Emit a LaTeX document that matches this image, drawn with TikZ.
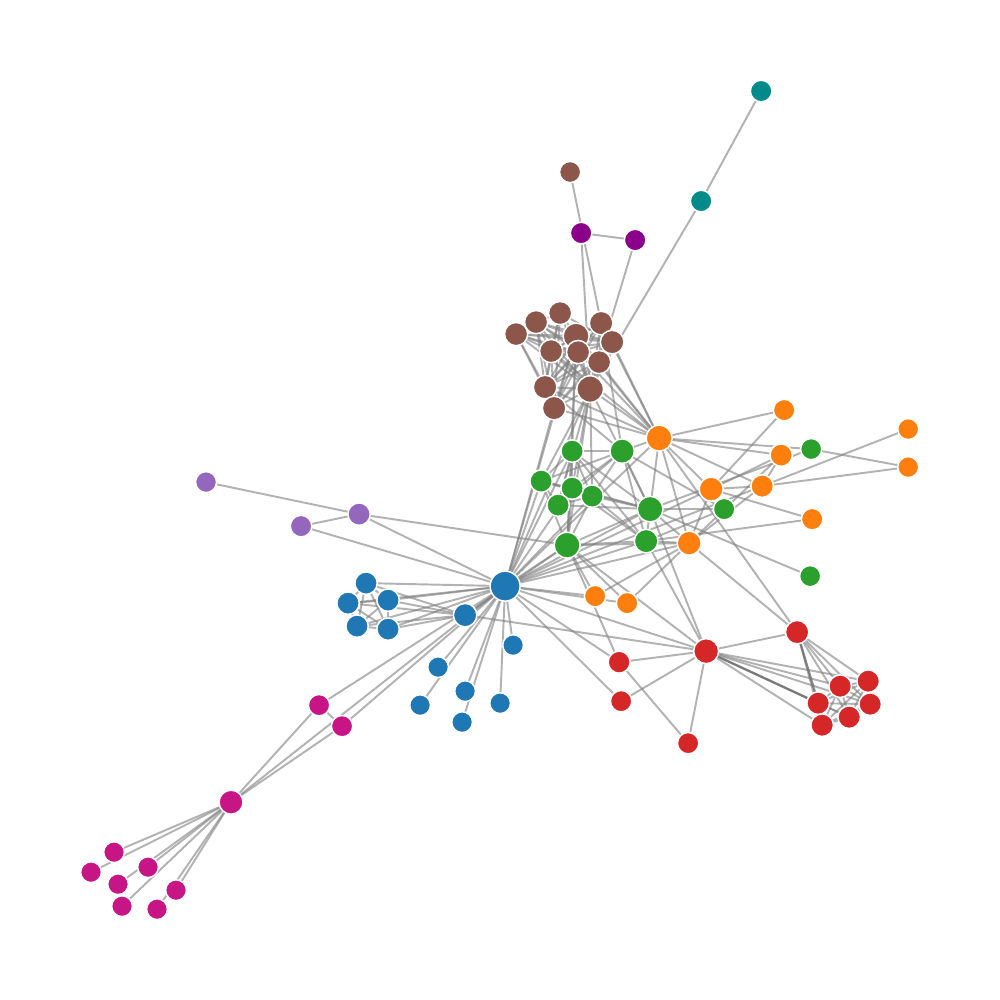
\documentclass[tikz,border=0pt]{standalone}
\usetikzlibrary{backgrounds}
\definecolor{cTeal}{HTML}{008B8B}
\definecolor{cDMag}{HTML}{8B008B}
\definecolor{cBrown}{HTML}{8C564B}
\definecolor{cOrange}{HTML}{FF7F0E}
\definecolor{cGreen}{HTML}{2CA02C}
\definecolor{cPurple}{HTML}{9467BD}
\definecolor{cBlue}{HTML}{1F77B4}
\definecolor{cRed}{HTML}{D62728}
\definecolor{cMag}{HTML}{C71585}
\tikzset{
  gnode/.style={circle, draw=white, line width=0.85pt, inner sep=0pt, outer sep=0pt},
  gedge/.style={draw=black!50, line width=1.1pt, opacity=0.6},
  gheavy/.style={draw=black!60, line width=1.3pt, opacity=0.75}
}
\newcommand\gn[5]{\node[gnode, fill=#4, minimum size=#5*0.04cm] (n#1) at (#2*0.02,-#3*0.02) {};}
\begin{document}
\begin{tikzpicture}
\useasboundingbox (0,0) rectangle (20,-20);
% magenta
\gn{0}{231}{802}{cMag}{12}
\gn{1}{114}{852}{cMag}{10.4}
\gn{2}{319}{705}{cMag}{10.7}
\gn{3}{342}{726}{cMag}{10.7}
\gn{4}{91}{872}{cMag}{10.4}
\gn{5}{118}{884}{cMag}{10.4}
\gn{6}{148}{867}{cMag}{10.4}
\gn{7}{176}{890}{cMag}{10.4}
\gn{8}{122}{906}{cMag}{10.4}
\gn{9}{157}{909}{cMag}{10.4}
% blue
\gn{10}{513}{645}{cBlue}{10.4}
\gn{11}{505}{586}{cBlue}{15}
\gn{13}{438}{667}{cBlue}{10.4}
\gn{14}{465}{691}{cBlue}{10.4}
\gn{15}{420}{705}{cBlue}{10.4}
\gn{29}{465}{615}{cBlue}{11.7}
\gn{32}{462}{722}{cBlue}{10.4}
\gn{33}{500}{703}{cBlue}{10.4}
\gn{34}{366}{583}{cBlue}{11.2}
\gn{35}{348}{603}{cBlue}{11.2}
\gn{36}{388}{600}{cBlue}{11.2}
\gn{37}{357}{626}{cBlue}{11.2}
\gn{38}{388}{629}{cBlue}{11.2}
% red
\gn{12}{621}{701}{cRed}{10.7}
\gn{16}{797}{632}{cRed}{11.7}
\gn{17}{818}{703}{cRed}{11.3}
\gn{18}{840}{686}{cRed}{11.3}
\gn{19}{868}{681}{cRed}{11.3}
\gn{20}{870}{704}{cRed}{11.3}
\gn{21}{849}{717}{cRed}{11.3}
\gn{22}{822}{725}{cRed}{11.3}
\gn{23}{706}{651}{cRed}{12.5}
\gn{30}{688}{743}{cRed}{10.7}
\gn{31}{619}{662}{cRed}{11}
% light purple
\gn{28}{359}{514}{cPurple}{11.2}
\gn{44}{301}{526}{cPurple}{10.8}
\gn{45}{206}{482}{cPurple}{10.5}
% teal and dark magenta
\gn{46}{761}{91}{cTeal}{10.8}
\gn{47}{701}{201}{cTeal}{10.8}
\gn{73}{581}{233}{cDMag}{10.8}
\gn{74}{635}{240}{cDMag}{10.8}
% brown
\gn{48}{590}{389}{cBrown}{13.3}
\gn{57}{601}{323}{cBrown}{11.8}
\gn{58}{576}{336}{cBrown}{13}
\gn{59}{578}{352}{cBrown}{11.6}
\gn{60}{516}{334}{cBrown}{11.6}
\gn{61}{599}{362}{cBrown}{11.6}
\gn{62}{545}{387}{cBrown}{11.8}
\gn{63}{612}{342}{cBrown}{11.8}
\gn{64}{554}{408}{cBrown}{11.8}
\gn{65}{551}{351}{cBrown}{11.6}
\gn{66}{536}{322}{cBrown}{11.6}
\gn{67}{570}{172}{cBrown}{10.6}
\gn{76}{560}{313}{cBrown}{11.6}
% orange
\gn{26}{689}{543}{cOrange}{12}
\gn{43}{595}{596}{cOrange}{10.8}
\gn{49}{711}{489}{cOrange}{12}
\gn{50}{812}{519}{cOrange}{10.8}
\gn{51}{762}{486}{cOrange}{11.3}
\gn{52}{908}{467}{cOrange}{10.5}
\gn{53}{908}{429}{cOrange}{10.5}
\gn{54}{781}{455}{cOrange}{11.2}
\gn{55}{659}{438}{cOrange}{13}
\gn{56}{784}{410}{cOrange}{10.8}
\gn{72}{627}{603}{cOrange}{10.8}
% green
\gn{24}{646}{541}{cGreen}{11.8}
\gn{25}{650}{509}{cGreen}{12.8}
\gn{27}{567}{545}{cGreen}{13}
\gn{39}{811}{449}{cGreen}{10.6}
\gn{40}{810}{576}{cGreen}{10.6}
\gn{41}{622}{451}{cGreen}{12.2}
\gn{42}{724}{509}{cGreen}{10.8}
\gn{68}{592}{496}{cGreen}{11.2}
\gn{69}{572}{488}{cGreen}{11.2}
\gn{70}{572}{451}{cGreen}{11.2}
\gn{71}{541}{481}{cGreen}{11.2}
\gn{75}{558}{505}{cGreen}{11.2}
\begin{scope}[on background layer]
\fill[white] (0,0) rectangle (20,-20);
\foreach \a/\b in {1/0,2/0,3/0,3/2,4/0,5/0,6/0,7/0,8/0,9/0,
11/10,11/3,11/2,11/0,12/11,13/11,14/11,15/11,
18/16,18/17,19/16,19/17,19/18,20/16,20/17,20/18,20/19,21/16,21/17,21/18,21/19,21/20,22/16,22/17,22/18,22/19,22/20,22/21,
23/16,23/18,23/19,23/20,23/21,23/22,23/12,23/11,
24/23,24/11,25/24,25/23,25/11,26/24,26/11,26/16,26/25,
27/11,27/23,27/25,27/24,27/26,28/11,28/27,29/23,29/27,29/11,30/23,31/30,31/11,31/23,31/27,32/11,33/11,34/11,34/29,35/11,35/34,35/29,36/34,36/35,36/11,36/29,37/34,37/35,37/36,37/11,37/29,38/34,38/35,38/36,38/37,38/11,38/29,
39/25,40/25,41/24,41/25,42/41,42/25,42/24,43/11,43/26,43/27,44/28,44/11,45/28,47/46,48/47,48/25,48/27,48/11,49/26,49/11,50/49,50/24,51/49,51/26,51/11,52/51,52/39,53/51,54/51,54/49,54/26,
55/51,55/49,55/39,55/54,55/26,55/11,55/16,55/25,55/41,55/48,56/49,56/55,57/55,57/41,57/48,58/55,58/48,58/27,58/57,58/11,59/58,59/55,59/48,59/57,60/48,60/58,60/59,61/48,61/58,61/60,61/59,61/57,61/55,
62/55,62/58,62/59,62/48,62/57,62/41,62/61,62/60,63/59,63/48,63/62,63/57,63/58,63/61,63/60,63/55,64/55,64/62,64/48,64/63,64/58,64/61,64/60,64/59,64/57,64/11,
65/63,65/64,65/48,65/62,65/58,65/61,65/60,65/59,65/57,65/55,66/64,66/58,66/59,66/62,66/65,66/48,66/63,66/61,66/60,67/57,
68/25,68/11,68/24,68/27,68/48,68/41,69/25,69/68,69/11,69/24,69/27,69/48,69/41,70/25,70/68,70/69,70/11,70/24,70/27,70/41,70/58,
71/27,71/69,71/68,71/70,71/11,71/48,71/41,71/25,72/26,72/27,72/11,73/48,74/48,74/73,75/69,75/68,75/25,75/48,75/41,75/70,75/71,
76/64,76/65,76/66,76/63,76/62,76/48,76/58}
  \draw[gedge] (n\a) -- (n\b);
\foreach \a/\b in {17/16,23/17}
  \draw[gheavy] (n\a) -- (n\b);
\end{scope}
\end{tikzpicture}
\end{document}
